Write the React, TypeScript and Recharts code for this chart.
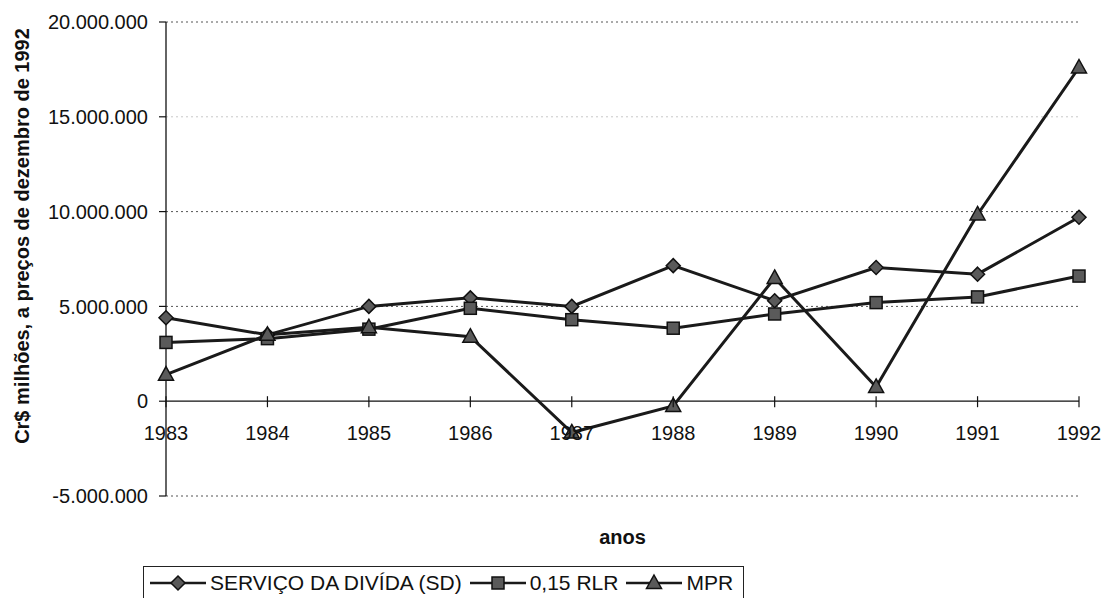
import React from 'react';
import { LineChart, Line, XAxis, YAxis, ReferenceLine } from 'recharts';

const FONT = '"Liberation Sans", Arial, sans-serif';

// values (Cr$ milhões, dez/1992 prices)
const years = ['1983', '1984', '1985', '1986', '1987', '1988', '1989', '1990', '1991', '1992'];
const servicoDivida = [4400000, 3500000, 5000000, 5450000, 5000000, 7150000, 5300000, 7050000, 6700000, 9700000];
const rlr015 = [3100000, 3300000, 3800000, 4900000, 4300000, 3850000, 4600000, 5200000, 5500000, 6600000];
const mpr = [1400000, 3500000, 3900000, 3400000, -1650000, -250000, 6500000, 750000, 9850000, 17600000];

const yTicks = [-5000000, 0, 5000000, 10000000, 15000000, 20000000];
const gridValues = [20000000, 15000000, 10000000, 5000000, -5000000];

const Y_MIN = -5000000;
const Y_MAX = 20000000;

const W = 1109;
const H = 598;
const M = { top: 22, right: 30, left: 0, bottom: 72 };
const X_AXIS_H = 30;
const PLOT_H = H - M.top - M.bottom - X_AXIS_H;

const data = years.map((y, i) => ({ year: y, sd: servicoDivida[i], rlr: rlr015[i], mpr: mpr[i] }));

const fmt = (v: number) => (v < 0 ? '-' : '') + String(Math.abs(v)).replace(/\B(?=(\d{3})+(?!\d))/g, '.');

const MARK_FILL = '#5a5a5a';
const MARK_STROKE = '#111';

function Diamond({ cx, cy }: { cx: number; cy: number }) {
  return (
    <path
      d={`M${cx},${cy - 7} L${cx + 7},${cy} L${cx},${cy + 7} L${cx - 7},${cy} Z`}
      fill={MARK_FILL}
      stroke={MARK_STROKE}
      strokeWidth={1.5}
    />
  );
}

function Square({ cx, cy }: { cx: number; cy: number }) {
  return <rect x={cx - 6} y={cy - 6} width={12} height={12} fill={MARK_FILL} stroke={MARK_STROKE} strokeWidth={1.5} />;
}

function Triangle({ cx, cy }: { cx: number; cy: number }) {
  return (
    <path
      d={`M${cx},${cy - 8} L${cx + 7.5},${cy + 5.5} L${cx - 7.5},${cy + 5.5} Z`}
      fill={MARK_FILL}
      stroke={MARK_STROKE}
      strokeWidth={1.5}
    />
  );
}

const series = [
  { key: 'sd', name: 'SERVIÇO DA DIVÍDA (SD)', Marker: Diamond },
  { key: 'rlr', name: '0,15 RLR', Marker: Square },
  { key: 'mpr', name: 'MPR', Marker: Triangle },
];

/* eslint-disable @typescript-eslint/no-explicit-any */
// x axis sits on the zero line, so shift the ticks up from the plot bottom
function YearTick({ x, y, payload }: any) {
  const zeroY = y - (PLOT_H * (0 - Y_MIN)) / (Y_MAX - Y_MIN);
  return (
    <g>
      <line x1={x} x2={x} y1={zeroY - 5} y2={zeroY + 6} stroke="#111" strokeWidth={1.2} />
      <text x={x} y={zeroY + 39} textAnchor="middle" fontSize={20} fontFamily={FONT} fill="#111">
        {payload.value}
      </text>
    </g>
  );
}

function Legendbox() {
  return (
    <div
      style={{
        position: 'absolute',
        left: 143,
        top: 566,
        width: 601,
        height: 60,
        border: '1.5px solid #222',
        boxSizing: 'border-box',
        display: 'flex',
        alignItems: 'flex-start',
        paddingLeft: 6,
        paddingTop: 3,
        fontFamily: FONT,
        fontSize: 21,
        color: '#111',
        whiteSpace: 'nowrap',
      }}
    >
      {series.map((s) => (
        <div key={s.key} style={{ display: 'flex', alignItems: 'center', marginRight: 8, height: 26 }}>
          <svg width={56} height={20} style={{ marginRight: 4 }}>
            <line x1={0} x2={56} y1={10} y2={10} stroke="#1a1a1a" strokeWidth={2.5} />
            <s.Marker cx={28} cy={10} />
          </svg>
          <span>{s.name}</span>
        </div>
      ))}
    </div>
  );
}

export default function App() {
  return (
    <div style={{ position: 'absolute', left: 0, top: 0, width: W, height: H, overflow: 'hidden', background: '#fff' }}>
      <LineChart width={W} height={H} data={data} margin={M}>
        {gridValues.map((g) => (
          <ReferenceLine
            key={g}
            y={g}
            stroke={g === 15000000 ? '#c8c8c8' : '#555'}
            strokeDasharray="2 3"
            strokeWidth={1}
          />
        ))}
        <ReferenceLine y={0} stroke="#111" strokeWidth={1.3} />
        <XAxis
          dataKey="year"
          scale="point"
          padding={{ left: 0, right: 0 }}
          height={X_AXIS_H}
          axisLine={false}
          tickLine={false}
          tickSize={0}
          tickMargin={0}
          interval={0}
          tick={<YearTick />}
          label={({ viewBox }: any) => (
            <text
              x={viewBox.x + viewBox.width / 2}
              y={viewBox.y + 48}
              textAnchor="middle"
              fontSize={20}
              fontWeight="bold"
              fontFamily={FONT}
              fill="#111"
            >
              anos
            </text>
          )}
        />
        <YAxis
          width={166}
          domain={[Y_MIN, Y_MAX]}
          ticks={yTicks}
          interval={0}
          allowDataOverflow
          tickFormatter={fmt}
          axisLine={{ stroke: '#111', strokeWidth: 1.3 }}
          tickLine={{ stroke: '#111', strokeWidth: 1.2 }}
          tickSize={7}
          tickMargin={11}
          tick={{ fontSize: 20, fontFamily: FONT, fill: '#111' }}
          label={() => (
            <text
              transform="translate(29,236) rotate(-90)"
              textAnchor="middle"
              fontSize={20}
              fontWeight="bold"
              fontFamily={FONT}
              fill="#111"
            >
              Cr$ milhões, a preços de dezembro de 1992
            </text>
          )}
        />
        {series.map((s) => (
          <Line
            key={s.key}
            dataKey={s.key}
            name={s.name}
            type="linear"
            stroke="#1a1a1a"
            strokeWidth={3}
            isAnimationActive={false}
            dot={(p: any) => (
              <g key={`${s.key}-${p.index}`}>
                <s.Marker cx={p.cx} cy={p.cy} />
              </g>
            )}
            activeDot={false}
          />
        ))}
      </LineChart>
      <Legendbox />
    </div>
  );
}
